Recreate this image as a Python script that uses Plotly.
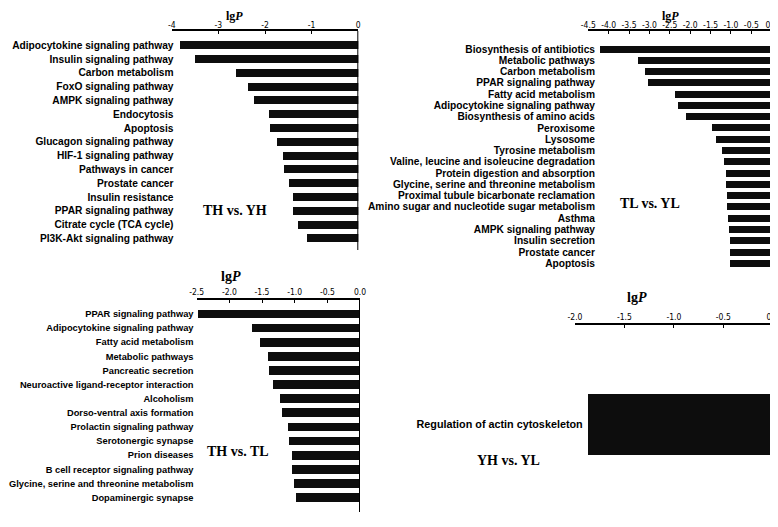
import plotly.graph_objects as go

# KEGG terms and lgP values
th_yh_terms = ["Adipocytokine signaling pathway", "Insulin signaling pathway", "Carbon metabolism",
               "FoxO signaling pathway", "AMPK signaling pathway", "Endocytosis", "Apoptosis",
               "Glucagon signaling pathway", "HIF-1 signaling pathway", "Pathways in cancer",
               "Prostate cancer", "Insulin resistance", "PPAR signaling pathway",
               "Citrate cycle (TCA cycle)", "PI3K-Akt signaling pathway"]
th_yh_lgp = [-3.82, -3.51, -2.62, -2.37, -2.25, -1.93, -1.89, -1.76, -1.63, -1.60,
             -1.49, -1.41, -1.40, -1.29, -1.11]

tl_yl_terms = ["Biosynthesis of antibiotics", "Metabolic pathways", "Carbon metabolism",
               "PPAR signaling pathway", "Fatty acid metabolism", "Adipocytokine signaling pathway",
               "Biosynthesis of amino acids", "Peroxisome", "Lysosome", "Tyrosine metabolism",
               "Valine, leucine and isoleucine degradation", "Protein digestion and absorption",
               "Glycine, serine and threonine metabolism", "Proximal tubule bicarbonate reclamation",
               "Amino sugar and nucleotide sugar metabolism", "Asthma", "AMPK signaling pathway",
               "Insulin secretion", "Prostate cancer", "Apoptosis"]
tl_yl_lgp = [-4.21, -3.27, -3.09, -3.04, -2.37, -2.29, -2.10, -1.46, -1.37, -1.20,
             -1.16, -1.12, -1.12, -1.10, -1.10, -1.06, -1.04, -1.02, -1.01, -1.01]

th_tl_terms = ["PPAR signaling pathway", "Adipocytokine signaling pathway", "Fatty acid metabolism",
               "Metabolic pathways", "Pancreatic secretion", "Neuroactive ligand-receptor interaction",
               "Alcoholism", "Dorso-ventral axis formation", "Prolactin signaling pathway",
               "Serotonergic synapse", "Prion diseases", "B cell receptor signaling pathway",
               "Glycine, serine and threonine metabolism", "Dopaminergic synapse"]
th_tl_lgp = [-2.49, -1.66, -1.53, -1.42, -1.40, -1.33, -1.23, -1.20, -1.11, -1.09,
             -1.05, -1.04, -1.01, -0.99]

yh_yl_terms = ["Regulation of actin cytoskeleton"]
yh_yl_lgp = [-1.87]

ticks_1 = [-4, -3, -2, -1, 0]
ticktext_1 = ["-4", "-3", "-2", "-1", "0"]
ticks_2 = [-4.5, -4.0, -3.5, -3.0, -2.5, -2.0, -1.5, -1.0, -0.5, 0.0]
ticktext_2 = ["-4.5", "-4.0", "-3.5", "-3.0", "-2.5", "-2.0", "-1.5", "-1.0", "-0.5", "0.0"]
ticks_3 = [-2.5, -2.0, -1.5, -1.0, -0.5, 0.0]
ticktext_3 = ["-2.5", "-2.0", "-1.5", "-1.0", "-0.5", "0.0"]
ticks_4 = [-2.0, -1.5, -1.0, -0.5, 0.0]
ticktext_4 = ["-2.0", "-1.5", "-1.0", "-0.5", "0.0"]

# the page body keeps its 8px margin, so the figure is 8px smaller and
# positions below are given in window pixels, shifted by that margin
OFF = 8
W, H = 778 - OFF, 527 - OFF


def fx(p):
    return (p - OFF) / W


def fy(p):
    return 1 - (p - OFF) / H


# layout of each panel in window pixels (title y of None = top edge)
panels = [
    dict(terms=th_yh_terms, vals=th_yh_lgp, tv=ticks_1, tt=ticktext_1, xr=[-4, 0], so=-2,
         x0=171.7, x1=358.3, y0=31, y1=250, yr=[14.85, -1.04], bw=0.58, fs=10.2, lab=173.5,
         title=(234, None), group="TH vs. YH", gpos=(235, 210)),
    dict(terms=tl_yl_terms, vals=tl_yl_lgp, tv=ticks_2, tt=ticktext_2, xr=[-4.5, 0], so=-2,
         x0=588.3, x1=771.7, y0=31, y1=274, yr=[19.95, -1.6], bw=0.62, fs=10.2, lab=595,
         title=(670, None), group="TL vs. YL", gpos=(650, 203)),
    dict(terms=th_tl_terms, vals=th_tl_lgp, tv=ticks_3, tt=ticktext_3, xr=[-2.5, 0], so=0,
         x0=196.7, x1=360, y0=300, y1=512, yr=[14.02, -0.99], bw=0.62, fs=9.3, lab=193.5,
         title=(231, 276), group="TH vs. TL", gpos=(238, 451)),
    dict(terms=yh_yl_terms, vals=yh_yl_lgp, tv=ticks_4, tt=ticktext_4, xr=[-2, 0], so=0,
         x0=575, x1=772.7, y0=325, y1=527, yr=[1.35, -1.31], bw=0.8, fs=10.8, lab=582.7,
         title=(637, 297), group="YH vs. YL", gpos=(508, 460)),
]

fig = go.Figure()
annotations = []
shapes = []
for i, p in enumerate(panels, start=1):
    sx = "" if i == 1 else str(i)
    fig.add_trace(go.Bar(
        x=p["vals"], y=p["terms"], orientation="h", width=p["bw"],
        marker=dict(color="#0d0d0d", line=dict(width=0)),
        xaxis="x" + sx, yaxis="y" + sx, showlegend=False,
    ))
    fig.layout["xaxis" + sx] = dict(
        domain=[fx(p["x0"]), fx(p["x1"])], range=p["xr"], side="top", anchor="y" + sx,
        automargin=False,
        showline=True, linecolor="black", linewidth=1.5, showgrid=False, zeroline=False,
        ticks="inside", ticklen=3, tickwidth=1, tickcolor="black",
        tickmode="array", tickvals=p["tv"], ticktext=p["tt"], ticklabeloverflow="allow",
        ticklabelstandoff=p["so"],
        tickfont=dict(family="Liberation Sans Narrow, DejaVu Sans Condensed, Arial Narrow, sans-serif",
                      size=8.5, color="black"),
    )
    fig.layout["yaxis" + sx] = dict(
        domain=[fy(p["y1"]), fy(p["y0"])], range=p["yr"], type="category",
        anchor="free", position=fx(p["lab"]), automargin=False,
        showline=False, showgrid=False, zeroline=False,
        tickmode="array", tickvals=p["terms"], ticktext=p["terms"],
        ticks="", tickfont=dict(family="Liberation Sans, Arial, sans-serif", size=p["fs"],
                                color="black", weight="bold"),
    )
    shapes.append(dict(type="line", xref="x" + sx, yref="y" + sx + " domain", x0=0, x1=0, y0=0, y1=1,
                       line=dict(color="black", width=2)))
    tx, ty = p["title"]
    if ty is None:
        tpos = dict(y=1, yanchor="top")
        tsize = 12
    else:
        tpos = dict(y=fy(ty), yanchor="middle")
        tsize = 14
    annotations.append(dict(text="<b>lg<i>P</i></b>", xref="paper", yref="paper",
                            x=fx(tx), xanchor="center", showarrow=False, borderpad=0,
                            font=dict(family="Liberation Serif, Times New Roman, serif", size=tsize,
                                      color="black"), **tpos))
    annotations.append(dict(text="<b>" + p["group"] + "</b>", xref="paper", yref="paper",
                            x=fx(p["gpos"][0]), y=fy(p["gpos"][1]), showarrow=False,
                            xanchor="center", yanchor="middle",
                            font=dict(family="Liberation Serif, Times New Roman, serif", size=14, color="black")))

fig.update_layout(
    width=W, height=H, margin=dict(l=0, r=0, t=0, b=0),
    paper_bgcolor="white", plot_bgcolor="white",
    annotations=annotations, shapes=shapes, bargap=0,
)

fig.write_html("out.html")
